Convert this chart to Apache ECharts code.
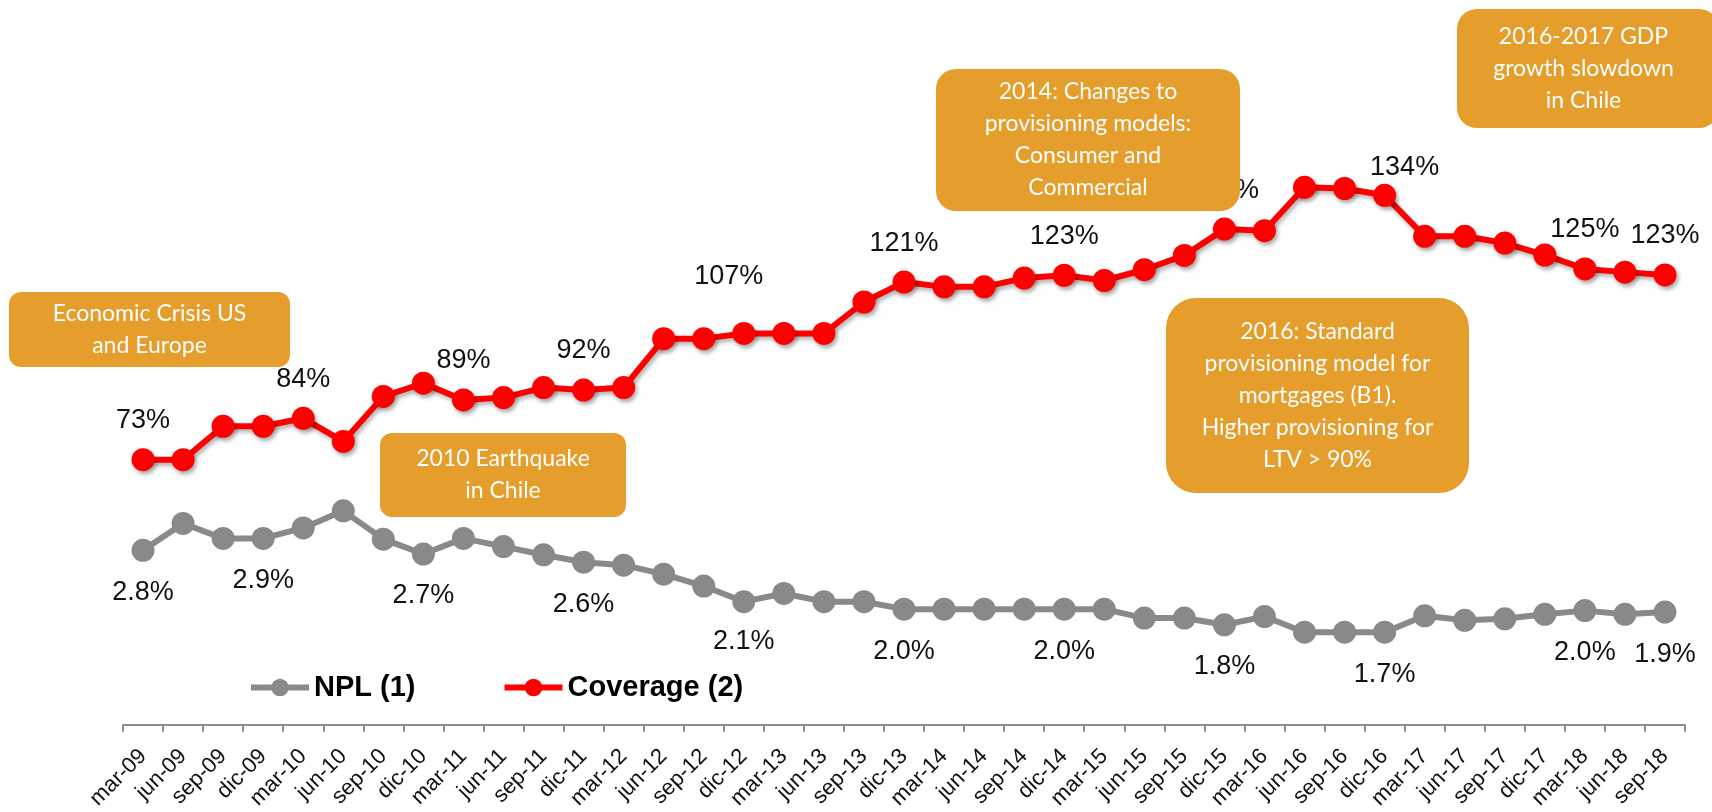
<!DOCTYPE html>
<html>
<head>
<meta charset="utf-8">
<script src="https://cdn.jsdelivr.net/npm/echarts@6/dist/echarts.min.js"></script>
<style>
  html, body { margin: 0; padding: 0; background: #ffffff; }
  #chart { width: 1712px; height: 812px; }
</style>
</head>
<body>
<div id="chart"></div>
<script>
// ---- Data ----
const categories = ['mar-09','jun-09','sep-09','dic-09','mar-10','jun-10','sep-10','dic-10',
  'mar-11','jun-11','sep-11','dic-11','mar-12','jun-12','sep-12','dic-12',
  'mar-13','jun-13','sep-13','dic-13','mar-14','jun-14','sep-14','dic-14',
  'mar-15','jun-15','sep-15','dic-15','mar-16','jun-16','sep-16','dic-16',
  'mar-17','jun-17','sep-17','dic-17','mar-18','jun-18','sep-18'];

const nplValues = [2.80,3.16,2.96,2.96,3.10,3.33,2.95,2.75,
  2.96,2.85,2.74,2.64,2.60,2.48,2.32,2.11,
  2.22,2.11,2.11,2.01,2.01,2.01,2.01,2.01,
  2.01,1.89,1.89,1.80,1.91,1.70,1.70,1.70,
  1.92,1.86,1.88,1.94,1.99,1.94,1.97];

const coverageValues = [73.0,73.0,81.4,81.4,83.4,77.6,88.9,92.2,
  88.0,88.6,91.1,90.5,91.1,103.4,103.4,104.7,
  104.7,104.7,112.6,117.6,116.4,116.4,118.6,119.3,
  118.0,120.7,124.3,130.9,130.5,141.4,141.1,139.4,
  129.1,129.1,127.4,124.4,120.9,120.1,119.4];

const nplLabels = ['2.8%','','','2.9%','','','','2.7%',
  '','','','2.6%','','','','2.1%',
  '','','','2.0%','','','','2.0%',
  '','','','1.8%','','','','1.7%',
  '','','','','2.0%','','1.9%'];

const coverageLabels = ['73%','','','','84%','','','',
  '89%','','','92%','','','','107%',
  '','','','121%','','','','123%',
  '','','','131%','','','','134%',
  '','','','','125%','','123%'];

const seriesNames = ['NPL (1)', 'Coverage (2)'];

const annotations = [
  'Economic Crisis US\nand Europe',
  '2010 Earthquake\nin Chile',
  '2014: Changes to\nprovisioning models:\nConsumer and\nCommercial',
  '2016-2017 GDP\ngrowth slowdown\nin Chile',
  '2016: Standard\nprovisioning model for\nmortgages (B1).\nHigher provisioning for\nLTV > 90%'
];

// ---- Layout / style (not data) ----
const boxLayout = [
  {x: 9,    y: 292, w: 281, h: 75,  r: 12},
  {x: 380,  y: 433, w: 246, h: 84,  r: 12},
  {x: 936,  y: 69,  w: 304, h: 142, r: 20},
  {x: 1457, y: 9,   w: 262, h: 119, r: 20},
  {x: 1166, y: 298, w: 303, h: 195, r: 30}
];
const boxColor = '#E59E2C';

const covOffsets = {15: [-15, -57], 31: [20, -28]};
const nplOffsets = {15: [0, 40]};

const labelFont = {fontFamily: 'Liberation Sans, Arial, sans-serif', fontSize: 27, color: '#111'};

function buildData(values, labels, defOffset, overrides) {
  return values.map((v, i) => {
    if (!labels[i]) return v;
    return {
      value: v,
      label: Object.assign({
        show: true,
        position: 'inside',
        formatter: labels[i],
        offset: overrides[i] || defOffset
      }, labelFont)
    };
  });
}

const chart = echarts.init(document.getElementById('chart'), null, {renderer: 'canvas'});

const graphics = annotations.map((txt, k) => {
  const b = boxLayout[k];
  return {
    type: 'group',
    z: 100,
    children: [
      {type: 'rect', z: 100, shape: {x: b.x, y: b.y, width: b.w, height: b.h, r: b.r},
       style: {fill: boxColor}},
      {type: 'text', z: 101, style: {
        text: txt, x: b.x + Math.min(b.w, 1712 - b.x - 2) / 2, y: b.y + b.h / 2,
        align: 'center', verticalAlign: 'middle',
        fill: '#ffffff', fontFamily: 'Lato, "Open Sans", sans-serif',
        fontSize: 23, lineHeight: 32
      }}
    ]
  };
});

const option = {
  animation: false,
  backgroundColor: '#ffffff',
  grid: {left: 123, right: 27, top: 8, bottom: 84, containLabel: false},
  legend: {
    data: seriesNames,
    left: 243, top: 668,
    itemWidth: 58, itemHeight: 22, itemGap: 86,
    lineStyle: {width: 6},
    textStyle: {fontFamily: 'Liberation Sans, Arial, sans-serif', fontSize: 29, fontWeight: 'bold', color: '#000'}
  },
  xAxis: {
    type: 'category',
    data: categories,
    boundaryGap: true,
    axisLine: {show: true, lineStyle: {color: '#8c8c8c', width: 2}},
    axisTick: {show: true, interval: 0, length: 7, lineStyle: {color: '#8c8c8c', width: 2}},
    axisLabel: {
      interval: 0, rotate: 45, margin: 28,
      fontFamily: 'Liberation Sans, Arial, sans-serif', fontSize: 22, color: '#111'
    },
    splitLine: {show: false}
  },
  yAxis: [
    {type: 'value', min: 0.4564, max: 10.082, show: false, splitLine: {show: false}},
    {type: 'value', min: 6.425, max: 186.425, show: false, splitLine: {show: false}}
  ],
  series: [
    {
      name: seriesNames[0],
      type: 'line',
      yAxisIndex: 0,
      data: buildData(nplValues, nplLabels, [0, 42], nplOffsets),
      symbol: 'circle',
      symbolSize: 23,
      itemStyle: {color: '#898989'},
      lineStyle: {color: '#898989', width: 6},
      z: 3
    },
    {
      name: seriesNames[1],
      type: 'line',
      yAxisIndex: 1,
      data: buildData(coverageValues, coverageLabels, [0, -39], covOffsets),
      symbol: 'circle',
      symbolSize: 23,
      itemStyle: {color: '#FF0000', shadowColor: 'rgba(0,0,0,0.35)', shadowBlur: 4, shadowOffsetX: 2, shadowOffsetY: 3},
      lineStyle: {color: '#FF0000', width: 6, shadowColor: 'rgba(0,0,0,0.3)', shadowBlur: 4, shadowOffsetX: 2, shadowOffsetY: 3},
      z: 4
    }
  ],
  graphic: graphics
};

chart.setOption(option);
</script>
</body>
</html>
